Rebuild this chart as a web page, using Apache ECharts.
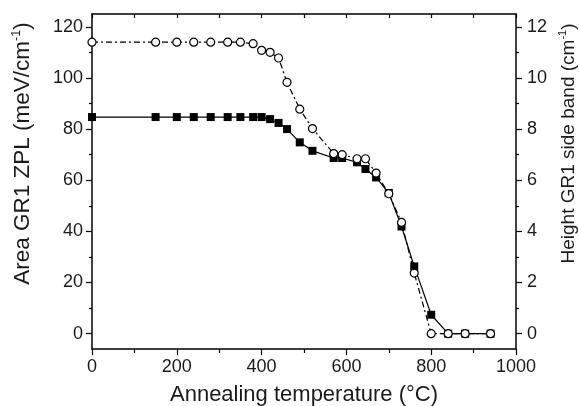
<!DOCTYPE html>
<html>
<head>
<meta charset="utf-8">
<script src="https://cdn.jsdelivr.net/npm/echarts@6/dist/echarts.min.js"></script>
<style>
html,body{margin:0;padding:0;background:#fff;}
#chart{width:579px;height:406px;}
</style>
</head>
<body>
<div id="chart"></div>
<script>
// Annealing temperature (°C)
const temps = [0,150,200,240,280,320,350,380,400,420,440,460,490,520,570,590,625,645,670,700,730,760,800,840,880,940];
// Area GR1 ZPL (meV/cm-1), left axis, filled squares
const zplArea = [84.7,84.7,84.7,84.7,84.7,84.7,84.7,84.7,84.7,83.9,82.4,80.0,74.8,71.5,68.7,68.7,67.0,64.4,61.1,55.0,41.9,26.3,7.4,0,0,0];
// Height GR1 side band (cm-1), right axis, open circles
const sideHeight = [11.4,11.4,11.4,11.4,11.4,11.4,11.4,11.34,11.08,11.0,10.78,9.83,8.78,8.02,7.04,7.0,6.84,6.84,6.28,5.47,4.35,2.37,0,0,0,0];
// tick labels
const xTicks = [0,200,400,600,800,1000];
const leftTicks = [0,20,40,60,80,100,120];
const leftMinor = [10,30,50,70,90,110];
const rightTicks = [0,2,4,6,8,10,12];
const rightMinor = [1,3,5,7,9,11];

const FONT = 'Liberation Sans, Arial, sans-serif';
const TXT = '#1a1a1a';
const lineBlack = {show:true, onZero:false, lineStyle:{color:'#000', width:1.5}};
const noLine = {show:false, onZero:false};
const plain = v => String(v);

const chart = echarts.init(document.getElementById('chart'), null, {renderer:'canvas'});
const richL = {
  t:{fontFamily:FONT, fontSize:22.5, color:TXT},
  s:{fontFamily:FONT, fontSize:12.5, color:TXT, padding:[0,0,12,0]}
};
const richR = {
  t:{fontFamily:FONT, fontSize:19, color:TXT},
  s:{fontFamily:FONT, fontSize:11, color:TXT, padding:[0,0,11,0]}
};
chart.setOption({
  animation:false,
  backgroundColor:'#fff',
  grid:{left:92, right:63, top:14, bottom:57, show:false, containLabel:false, outerBoundsMode:'none'},
  xAxis:[
    {type:'value', position:'bottom', min:0, max:1000, interval:200,
     axisLine:lineBlack,
     axisTick:{show:true, inside:false, length:6, lineStyle:{color:'#000', width:1.2}},
     minorTick:{show:true, splitNumber:2, length:4, lineStyle:{color:'#000', width:1.2}},
     splitLine:{show:false},
     axisLabel:{margin:9, fontFamily:FONT, fontSize:18, color:TXT,
       customValues:xTicks, formatter:plain},
     name:'Annealing temperature (°C)', nameLocation:'middle', nameGap:35,
     nameTextStyle:{fontFamily:FONT, fontSize:22, color:TXT}
    },
    {type:'value', position:'top', min:0, max:1000, interval:100,
     axisLine:lineBlack,
     axisTick:{show:true, inside:true, length:4, lineStyle:{color:'#000', width:1.2}},
     splitLine:{show:false}, axisLabel:{show:false}}
  ],
  yAxis:[
    {type:'value', position:'left', min:-6, max:125,
     axisLine:lineBlack,
     axisTick:{show:true, inside:false, length:6, customValues:leftTicks, lineStyle:{color:'#000', width:1.2}},
     splitLine:{show:false},
     axisLabel:{margin:9, fontFamily:FONT, fontSize:18, color:TXT, customValues:leftTicks, formatter:plain},
     name:'{t|Area GR1 ZPL (meV/cm}{s|-1}{t|)}', nameLocation:'middle', nameGap:57,
     nameRotate:90,
     nameTextStyle:{rich:richL, padding:[0,0,0,56]}
    },
    {type:'value', position:'right', min:-0.6, max:12.5,
     axisLine:lineBlack,
     axisTick:{show:true, inside:false, length:6, customValues:rightTicks, lineStyle:{color:'#000', width:1.2}},
     splitLine:{show:false},
     axisLabel:{margin:11, fontFamily:FONT, fontSize:18, color:TXT, customValues:rightTicks, formatter:plain},
     name:'{t|Height GR1 side band (cm}{s|-1}{t|)}', nameLocation:'middle', nameGap:32,
     nameRotate:90,
     nameTextStyle:{rich:richR, padding:[0,0,0,76]}
    },
    {type:'value', position:'left', min:-6, max:125,
     axisLine:noLine,
     axisTick:{show:true, inside:false, length:3, customValues:leftMinor, lineStyle:{color:'#000', width:1.2}},
     splitLine:{show:false}, axisLabel:{show:false}},
    {type:'value', position:'right', min:-0.6, max:12.5,
     axisLine:noLine,
     axisTick:{show:true, inside:false, length:3, customValues:rightMinor, lineStyle:{color:'#000', width:1.2}},
     splitLine:{show:false}, axisLabel:{show:false}}
  ],
  series:[
    {type:'line', name:'Area GR1 ZPL', xAxisIndex:0, yAxisIndex:0,
     data:temps.map((t,i)=>[t, zplArea[i]]),
     symbol:'rect', symbolSize:8, z:2,
     itemStyle:{color:'#000'},
     lineStyle:{color:'#000', width:1.2, type:'solid'}},
    {type:'line', name:'Height GR1 side band', xAxisIndex:0, yAxisIndex:1,
     data:temps.map((t,i)=>[t, sideHeight[i]]),
     symbol:'circle', symbolSize:8, z:3,
     itemStyle:{color:'#fff', borderColor:'#000', borderWidth:1.2},
     lineStyle:{color:'#000', width:1.2, type:[6,3,2,3]}}
  ]
});
</script>
</body>
</html>
